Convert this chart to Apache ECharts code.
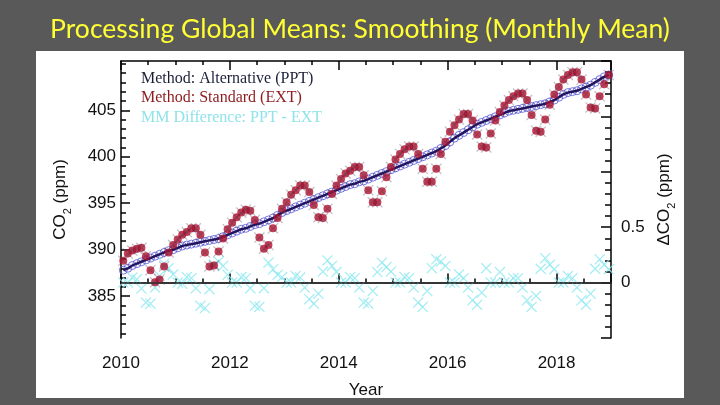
<!DOCTYPE html>
<html><head><meta charset="utf-8">
<script src="https://cdn.jsdelivr.net/npm/echarts@6/dist/echarts.min.js"></script>
<style>html,body{margin:0;padding:0;background:#595959;}#c{width:720px;height:405px;}</style>
</head><body><div id="c"></div>
<script>
// ---- data ----
const startYear = 2010;
const yearTicks = [2010, 2012, 2014, 2016, 2018];
const co2Ticks = [385, 390, 395, 400, 405];
const co2MinorTicks = [381,382,383,384,386,387,388,389,391,392,393,394,396,397,398,399,401,402,403,404,406,407,408,409,410];
const diffTickLabels = [0, 0.5];

// PPT (alternative) smoothed monthly values, Jan 2010 .. Dec 2018
const trendPPT = [
  387.8, 388.0, 388.3, 388.5, 388.7, 388.9, 389.1, 389.3, 389.5, 389.7, 389.9, 390.0,
  390.2, 390.4, 390.5, 390.6, 390.7, 390.8, 390.9, 391.0, 391.1, 391.2, 391.4, 391.6,
  391.8, 392.0, 392.2, 392.3, 392.5, 392.7, 392.8, 393.0, 393.2, 393.4, 393.7, 394.0,
  394.2, 394.4, 394.6, 394.8, 395.0, 395.2, 395.4, 395.6, 395.8, 396.0, 396.2, 396.4,
  396.6, 396.8, 397.0, 397.1, 397.3, 397.4, 397.6, 397.8, 398.0, 398.2, 398.4, 398.6,
  398.8, 399.0, 399.2, 399.4, 399.6, 399.8, 400.0, 400.2, 400.4, 400.6, 400.9, 401.2,
  401.6, 402.0, 402.3, 402.6, 402.9, 403.2, 403.5, 403.7, 403.9, 404.1, 404.3, 404.5,
  404.7, 404.9, 405.0, 405.1, 405.2, 405.3, 405.4, 405.5, 405.6, 405.7, 405.9, 406.1,
  406.4, 406.7, 406.9, 407.0, 407.1, 407.3, 407.5, 407.7, 408.0, 408.3, 408.6, 408.8
];
// EXT (standard) monthly values
const monthlyEXT = [
  388.8, 389.6, 389.9, 390.1, 390.2, 389.3, 387.8, 386.5, 386.8, 388.2, 389.7, 390.5,
  391.1, 391.6, 391.9, 392.3, 392.3, 391.6, 389.7, 388.2, 388.3, 389.8, 391.2, 392.2,
  392.9, 393.5, 394.0, 394.3, 394.2, 393.2, 391.3, 390.1, 390.5, 392.3, 393.4, 394.4,
  395.1, 395.9, 396.4, 396.9, 396.9, 396.2, 394.8, 393.5, 393.4, 394.4, 396.0, 396.9,
  397.6, 398.2, 398.5, 398.9, 398.9, 398.0, 396.4, 395.1, 395.1, 396.3, 397.8, 398.9,
  399.7, 400.3, 400.8, 401.1, 401.1, 400.3, 398.7, 397.3, 397.3, 398.7, 400.3, 401.6,
  402.7, 403.4, 404.0, 404.6, 404.6, 403.9, 402.4, 401.1, 401.0, 402.5, 403.9, 404.8,
  405.5, 406.1, 406.5, 406.8, 406.8, 406.1, 404.5, 402.8, 402.7, 404.0, 405.6, 406.7,
  407.5, 408.3, 408.8, 409.1, 409.1, 408.3, 406.7, 405.3, 405.2, 406.5, 407.8, 408.8
];
// MM difference PPT - EXT (right axis)
const diffMM = [
  0.00, 0.00, 0.045, 0.03, -0.054, -0.18, -0.19, -0.045, 0.06, 0.17, 0.13, 0.074,
  0.00, -0.01, 0.05, 0.04, -0.05, -0.21, -0.23, -0.06, 0.16, 0.19, 0.15, 0.07,
  0.00, 0.00, 0.05, 0.04, -0.05, -0.21, -0.22, -0.05, 0.18, 0.12, 0.07, 0.05,
  0.00, 0.00, 0.06, 0.045, -0.045, -0.15, -0.19, -0.10, 0.10, 0.20, 0.15, 0.095,
  0.00, 0.00, 0.05, 0.04, -0.045, -0.18, -0.19, -0.075, 0.095, 0.18, 0.14, 0.10,
  0.00, 0.00, 0.05, 0.04, -0.045, -0.18, -0.22, -0.075, 0.13, 0.21, 0.19, 0.15,
  0.00, 0.00, 0.074, 0.04, -0.045, -0.16, -0.20, -0.09, 0.13, 0.00, 0.00, 0.095,
  0.00, 0.00, 0.04, 0.04, -0.045, -0.16, -0.22, -0.12, 0.125, 0.22, 0.16, 0.12,
  0.00, 0.00, 0.06, 0.04, -0.045, -0.16, -0.20, -0.10, 0.125, 0.21, 0.16, 0.12
];

// ---- chart ----
const xs = trendPPT.map((_, i) => startYear + (i + 0.5) / 12);
const pts = arr => arr.map((v, i) => [xs[i], v]);
const XSYM = 'path://M0,0.8L0.8,0L5,4.2L9.2,0L10,0.8L5.8,5L10,9.2L9.2,10L5,5.8L0.8,10L0,9.2L4.2,5Z';
const AX = '#000';
const LBL = {color:'#111', fontFamily:'Liberation Sans', fontSize:17};
const nameRich = {
  a:{color:'#111', fontFamily:'Liberation Sans', fontSize:17, verticalAlign:'top', lineHeight:17},
  s:{color:'#111', fontFamily:'Liberation Sans', fontSize:11, verticalAlign:'bottom', lineHeight:21}
};

const chart = echarts.init(document.getElementById('c'));
const baseX = {type:'value', min:2010, max:2019, splitLine:{show:false}};
chart.setOption({
  backgroundColor:'#595959',
  animation:false,
  graphic:[{type:'rect', silent:true, z:-10, shape:{x:36, y:51, width:648, height:347}, style:{fill:'#ffffff'}}],
  title:[
    {text:'Processing Global Means: Smoothing (Monthly Mean)', left:'center', top:11,
     textStyle:{color:'#ffff33', fontFamily:'Lato', fontSize:26.5, fontWeight:'normal'}},
    {text:'{p|Method: Alternative (PPT)}\n{e|Method: Standard (EXT)}\n{d|MM Difference: PPT - EXT}',
     left:136, top:64,
     textStyle:{fontWeight:'normal', rich:{
       p:{color:'#1b2038', fontFamily:'Liberation Serif', fontSize:16, fontWeight:'normal', lineHeight:19.5},
       e:{color:'#8e1b1e', fontFamily:'Liberation Serif', fontSize:16, fontWeight:'normal', lineHeight:19.5},
       d:{color:'#8fe3ea', fontFamily:'Liberation Serif', fontSize:16, fontWeight:'normal', lineHeight:19.5}
     }}}
  ],
  grid:{left:121, right:109, top:61, bottom:67},
  xAxis:[
    Object.assign({}, baseX, {position:'bottom', interval:2,
      axisLine:{lineStyle:{color:AX, width:1.5}},
      axisTick:{inside:true, length:9, lineStyle:{color:AX, width:1.5}},
      minorTick:{show:true, splitNumber:4, length:4, lineStyle:{color:AX, width:1.5}},
      axisLabel:Object.assign({margin:17, showMaxLabel:false,
        formatter:v => (yearTicks.indexOf(v) >= 0 ? String(v) : '')}, LBL),
      name:'Year', nameLocation:'middle', nameGap:44, nameTextStyle:LBL}),
    Object.assign({}, baseX, {position:'top', interval:2,
      axisLine:{lineStyle:{color:AX, width:1.5}},
      axisTick:{inside:true, length:9, lineStyle:{color:AX, width:1.5}},
      minorTick:{show:true, splitNumber:4, length:4, lineStyle:{color:AX, width:1.5}},
      axisLabel:{show:false}})
  ],
  yAxis:[
    {type:'value', position:'left', min:380.5, max:410.3, splitLine:{show:false},
      axisLine:{show:true, lineStyle:{color:AX, width:1.5}},
      axisTick:{inside:true, length:9, customValues:co2Ticks, lineStyle:{color:AX, width:1.5}},
      axisLabel:Object.assign({margin:5, customValues:co2Ticks}, LBL),
      name:'{a|CO}{s|2}{a| (ppm)}', nameLocation:'middle', nameRotate:90, nameGap:48,
      nameTextStyle:{rich:nameRich}},
    {type:'value', position:'left', min:380.5, max:410.3, splitLine:{show:false},
      axisLine:{show:false},
      axisTick:{inside:true, length:5, customValues:co2MinorTicks, lineStyle:{color:AX, width:1.5}},
      axisLabel:{show:false}},
    {type:'value', position:'right', min:-0.5, max:2, interval:0.5, splitLine:{show:false},
      axisLine:{show:true, lineStyle:{color:AX, width:1.5}},
      axisTick:{inside:true, length:10, lineStyle:{color:AX, width:1.5}},
      minorTick:{show:true, splitNumber:5, length:6, lineStyle:{color:AX, width:1.5}},
      axisLabel:Object.assign({margin:10, formatter:v => diffTickLabels.indexOf(v) >= 0 ? String(v) : ''}, LBL),
      name:'{a|ΔCO}{s|2}{a| (ppm)}', nameLocation:'middle', nameRotate:90, nameGap:45,
      nameTextStyle:{rich:nameRich}}
  ],
  series:[
    {name:'Method: Alternative (PPT)', type:'scatter', xAxisIndex:0, yAxisIndex:0, data:pts(trendPPT),
      symbol:'circle', symbolSize:8, z:2,
      itemStyle:{color:'rgba(255,255,255,0)', borderColor:'#5656d4', borderWidth:1}},
    {name:'Method: Alternative (PPT)', type:'line', xAxisIndex:0, yAxisIndex:0, data:pts(trendPPT),
      showSymbol:false, smooth:true, z:3, lineStyle:{color:'#22145e', width:2.5}},
    {name:'MM Difference: PPT - EXT', type:'scatter', xAxisIndex:0, yAxisIndex:2, data:pts(diffMM),
      symbol:XSYM, symbolSize:11, z:3, itemStyle:{color:'#8ee8f0'},
      markLine:{silent:true, symbol:'none', label:{show:false},
        lineStyle:{color:'#333', width:1.5, type:'solid'}, data:[{yAxis:0}]}},
    {name:'Method: Standard (EXT)', type:'scatter', xAxisIndex:0, yAxisIndex:0, data:pts(monthlyEXT),
      symbol:'circle', symbolSize:8, z:4, itemStyle:{color:'#b70f2c'}},
    {name:'Method: Standard (EXT)', type:'scatter', xAxisIndex:0, yAxisIndex:0, data:pts(monthlyEXT),
      symbol:XSYM, symbolSize:11, z:5, itemStyle:{color:'rgba(70,50,80,0.4)'}}
  ]
});
</script></body></html>
